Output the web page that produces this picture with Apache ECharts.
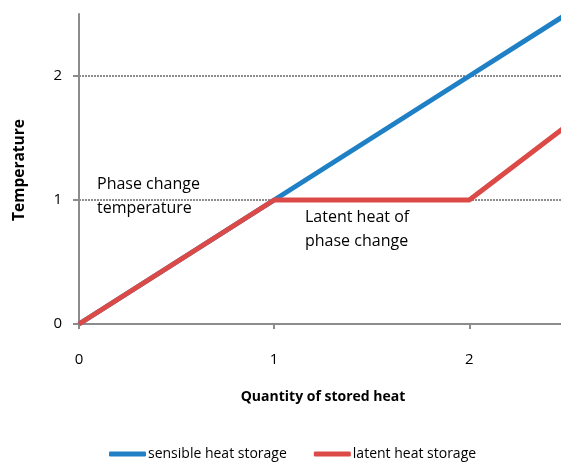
<!DOCTYPE html>
<html><head><meta charset="utf-8">
<script src="https://cdn.jsdelivr.net/npm/echarts@6/dist/echarts.min.js"></script>
<style>html,body{margin:0;padding:0;background:#fff}#c{width:561px;height:462px}</style>
</head><body><div id="c"></div>
<script>
const heatX = [0, 1, 2, 2.5];
const sensibleTemp = [0, 1, 2, 2.5];
const latentTemp = [0, 1, 1, 1.6];
const xTicks = [0, 1, 2];
const yTicks = [0, 1, 2];
const seriesNames = ['sensible heat storage', 'latent heat storage'];
const annotations = ['Phase change\ntemperature', 'Latent heat of\nphase change'];
const xTitle = 'Quantity of stored heat';
const yTitle = 'Temperature';

const FONT = "'Open Sans',sans-serif";
const chart = echarts.init(document.getElementById('c'), null, {renderer: 'canvas'});
const axisGray = '#8c8c8c';
chart.setOption({
  animation: false,
  grid: {left: 79, right: 0, top: 14, bottom: 138, containLabel: false},
  xAxis: {
    type: 'value', min: 0, max: 2.47, interval: 1,
    axisLine: {show: true, lineStyle: {color: axisGray, width: 2}},
    axisTick: {show: true, length: 5, lineStyle: {color: axisGray, width: 2}},
    axisLabel: {color: '#000', fontSize: 15, fontFamily: FONT, margin: 28, showMaxLabel: false,
      formatter: v => xTicks.includes(v) ? String(v) : ''},
    splitLine: {show: false}
  },
  yAxis: {
    type: 'value', min: 0, max: 2.5, interval: 1,
    axisLine: {show: true, lineStyle: {color: axisGray, width: 2}},
    axisTick: {show: true, length: 6, lineStyle: {color: axisGray, width: 2}},
    axisLabel: {color: '#000', fontSize: 15, fontFamily: FONT, margin: 17, showMaxLabel: false,
      formatter: v => yTicks.includes(v) ? String(v) : ''},
    splitLine: {show: true, showMaxLine: false, lineStyle: {color: '#8c8c8c', width: 2, type: [2, 1]}}
  },
  legend: {
    left: 104, top: 442, itemWidth: 37, itemHeight: 5, itemGap: 27, icon: 'roundRect',
    textStyle: {color: '#000', fontSize: 14, fontFamily: FONT, padding: [0, 0, 0, -3]},
    data: seriesNames
  },
  series: [
    {name: seriesNames[0], type: 'line', data: heatX.map((x, i) => [x, sensibleTemp[i]]),
      showSymbol: false, symbol: 'none', lineStyle: {color: '#1f80c6', width: 5}, itemStyle: {color: '#1f80c6'}},
    {name: seriesNames[1], type: 'line', data: heatX.map((x, i) => [x, latentTemp[i]]),
      showSymbol: false, symbol: 'none', lineStyle: {color: '#dc4a48', width: 5}, itemStyle: {color: '#dc4a48'}}
  ],
  graphic: [
    {type: 'text', left: 97, top: 172, style: {text: annotations[0], font: "16px " + FONT, fill: '#000', lineHeight: 24}},
    {type: 'text', left: 305, top: 205, style: {text: annotations[1], font: "16px " + FONT, fill: '#000', lineHeight: 24}},
    {type: 'text', x: 323, y: 397, style: {text: xTitle, font: "bold 14px " + FONT, fill: '#000', align: 'center', verticalAlign: 'middle'}},
    {type: 'text', x: 20, y: 170, rotation: Math.PI / 2, style: {text: yTitle, font: "bold 15.5px " + FONT, fill: '#000', align: 'center', verticalAlign: 'middle'}}
  ]
});
</script></body></html>
